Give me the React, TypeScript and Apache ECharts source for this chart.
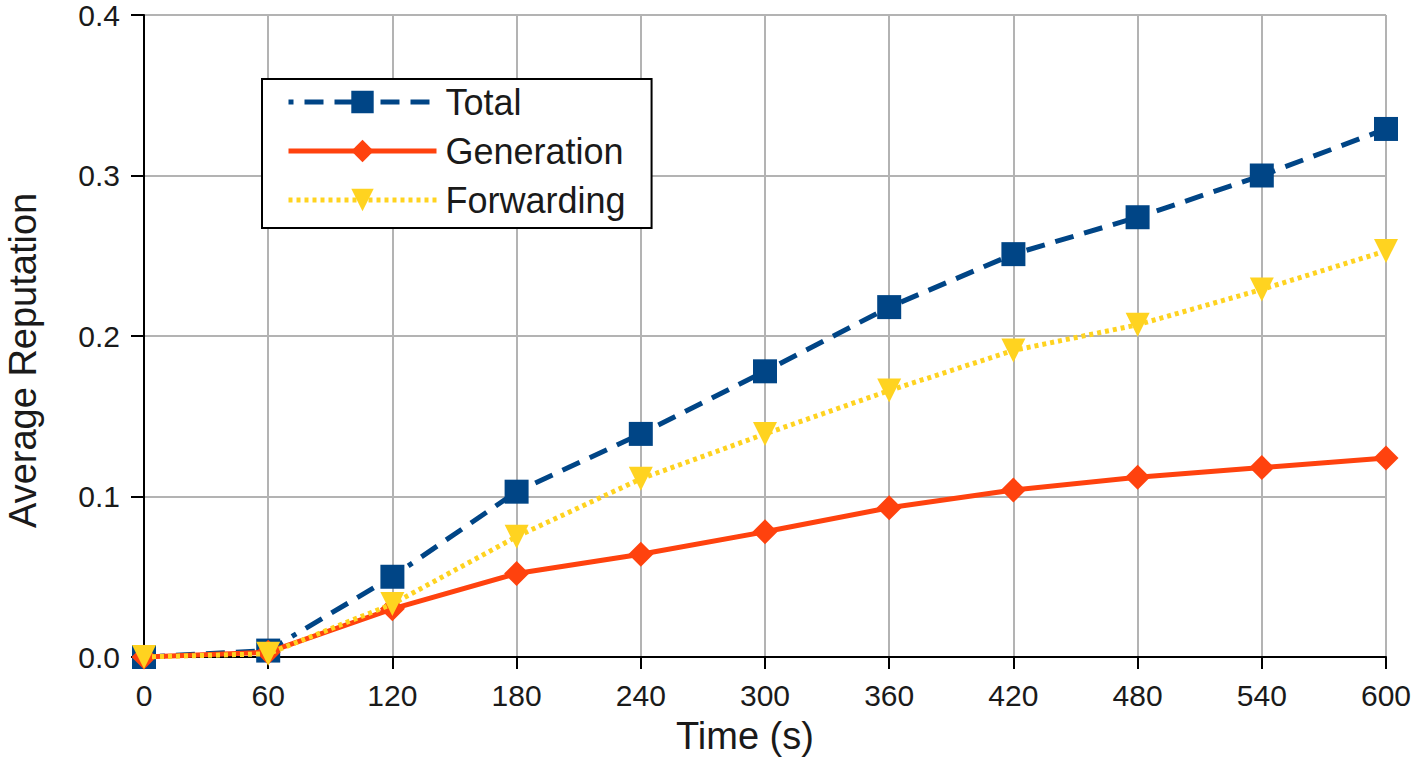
import React, { useEffect, useRef } from "react";
import * as echarts from "echarts";

const times = [0, 60, 120, 180, 240, 300, 360, 420, 480, 540, 600];
const totalValues = [0.0, 0.004, 0.05, 0.103, 0.139, 0.178, 0.218, 0.251, 0.274, 0.3, 0.329];
const generationValues = [0.0, 0.003, 0.03, 0.052, 0.064, 0.078, 0.093, 0.104, 0.112, 0.118, 0.124];
const forwardingValues = [0.0, 0.002, 0.033, 0.075, 0.111, 0.139, 0.166, 0.191, 0.207, 0.229, 0.253];
const seriesNames = ["Total", "Generation", "Forwarding"];

const FONT = "Liberation Sans, Arial, sans-serif";
const BLUE = "#004586";
const RED = "#ff420e";
const YELLOW = "#ffd320";
const totalDash = [5, 11, 19, 11, 19, 11, 19, 11, 19, 11];
const fwdDash = [4, 4];

export default function App() {
  const ref = useRef<HTMLDivElement>(null);
  useEffect(() => {
    if (!ref.current) return;
    const chart = echarts.init(ref.current, null, { renderer: "svg" });
    const pair = (vals: number[]) => times.map((t, i) => [t, vals[i]]);
    chart.setOption({
      animation: false,
      backgroundColor: "#ffffff",
      textStyle: { fontFamily: FONT },
      grid: { left: 144, right: 29, top: 13, bottom: 102 },
      xAxis: {
        type: "value",
        min: 0,
        max: 600,
        interval: 60,
        axisLine: { show: true, onZero: false, lineStyle: { color: "#000", width: 2 } },
        axisTick: { show: true, length: 12, lineStyle: { color: "#000", width: 2 } },
        axisLabel: { color: "#1a1a1a", fontSize: 30, fontFamily: FONT, margin: 23 },
        splitLine: { show: true, lineStyle: { color: "#b3b3b3", width: 2 } },
      },
      yAxis: {
        type: "value",
        min: 0,
        max: 0.4,
        interval: 0.1,
        axisLine: { show: true, onZero: false, lineStyle: { color: "#000", width: 2 } },
        axisTick: { show: true, length: 13, lineStyle: { color: "#000", width: 2 } },
        axisLabel: {
          color: "#1a1a1a",
          fontSize: 30,
          fontFamily: FONT,
          margin: 24,
          formatter: (v: number) => v.toFixed(1),
        },
        splitLine: { show: true, lineStyle: { color: "#b3b3b3", width: 2 } },
      },
      legend: {
        orient: "vertical",
        left: 262,
        top: 79,
        padding: [5, 26, 10, 24],
        itemGap: 13,
        itemWidth: 148,
        itemHeight: 28,
        borderColor: "#000",
        borderWidth: 2,
        borderRadius: 0,
        backgroundColor: "#fff",
        textStyle: { color: "#1a1a1a", fontSize: 36, fontFamily: FONT, padding: [0, 0, 0, 4] },
        data: [
          { name: seriesNames[0], lineStyle: { width: 5, type: [5, 11, 19, 11, 19, 11], dashOffset: 0 } },
          { name: seriesNames[1], lineStyle: { width: 5, type: "solid" } },
          { name: seriesNames[2], lineStyle: { width: 5, type: fwdDash } },
        ],
      },
      graphic: [
        {
          type: "text",
          left: 676,
          top: 717,
          style: { text: "Time (s)", font: `38px ${FONT}`, fill: "#1a1a1a" },
        },
        {
          type: "text",
          x: 4,
          y: 528,
          rotation: Math.PI / 2,
          style: { text: "Average Reputation", font: `38px ${FONT}`, fill: "#1a1a1a" },
        },
      ],
      series: [
        {
          name: seriesNames[0],
          type: "line",
          data: pair(totalValues),
          symbol: "rect",
          symbolSize: 24,
          itemStyle: { color: BLUE },
          lineStyle: { color: BLUE, width: 5, type: totalDash, dashOffset: 120 },
          z: 3,
        },
        {
          name: seriesNames[1],
          type: "line",
          data: pair(generationValues),
          symbol: "diamond",
          symbolSize: 25,
          itemStyle: { color: RED },
          lineStyle: { color: RED, width: 5, type: "solid" },
          z: 4,
        },
        {
          name: seriesNames[2],
          type: "line",
          data: pair(forwardingValues),
          symbol: "triangle",
          symbolRotate: 180,
          symbolSize: 24,
          itemStyle: { color: YELLOW },
          lineStyle: { color: YELLOW, width: 5, type: fwdDash },
          z: 5,
        },
      ],
    });
    return () => chart.dispose();
  }, []);
  return <div ref={ref} style={{ width: 1415, height: 759, position: "absolute", left: 0, top: 0 }} />;
}
